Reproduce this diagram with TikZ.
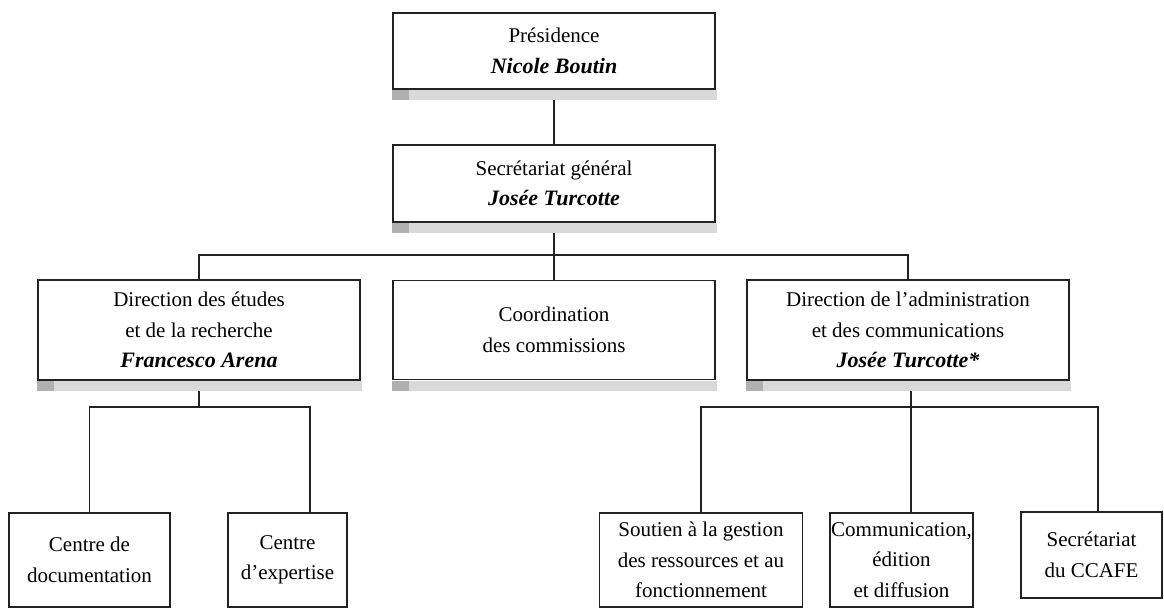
\documentclass[tikz,border=0pt]{standalone}
\usepackage{fontspec}
\setmainfont{Liberation Serif}
\definecolor{shlight}{HTML}{D9D9D9}
\definecolor{shdark}{HTML}{B0B0B0}
\definecolor{ln}{HTML}{222222}
\newcommand\nm[1]{{\fontsize{22}{30.5}\selectfont\bfseries\itshape #1}}
\newcommand\shadowbar[1]{%
  \fill[shlight] ([yshift=-0.6pt]#1.south west) rectangle ([xshift=1pt,yshift=-10.5pt]#1.south east);
  \fill[shdark] ([yshift=-0.6pt]#1.south west) rectangle ([xshift=17pt,yshift=-10.5pt]#1.south west);}
\tikzset{
  box/.style={draw=ln, line width=1.1pt, fill=white, inner sep=0pt, align=center,
    font=\fontsize{21}{30.5}\selectfont},
  conn/.style={draw=ln, line width=1.1pt}
}
\begin{document}
\begin{tikzpicture}[x=1pt,y=-1pt]
\useasboundingbox (0,0) rectangle (1164,608);
% level 0 and 1
\node[box, minimum width=322pt, minimum height=76pt] (pres) at (554,51) {Présidence\\\nm{Nicole Boutin}};
\node[box, minimum width=322pt, minimum height=77pt] (sg) at (554,183.5) {Secrétariat général\\\nm{Josée Turcotte}};
% level 2
\node[box, minimum width=322pt, minimum height=100pt] (der) at (199,330) {Direction des études\\et de la recherche\\\nm{Francesco Arena}};
\node[box, minimum width=322pt, minimum height=99pt] (coord) at (554,330) {Coordination\\des commissions};
\node[box, minimum width=322pt, minimum height=100pt] (dac) at (908,330) {Direction de l'administration\\et des communications\\\nm{Josée Turcotte*}};
% level 3
\node[box, minimum width=161pt, minimum height=94pt] (doc) at (89.5,560) {Centre de\\documentation};
\node[box, minimum width=119pt, minimum height=94pt] (exp) at (287.5,560) {Centre\\d'expertise};
\node[box, minimum width=203pt, minimum height=94pt] (sout) at (701,560) {Soutien à la gestion\\des ressources et au\\fonctionnement};
\node[box, minimum width=143pt, minimum height=94pt] (comm) at (901.5,560) {Communication,\\édition\\et diffusion};
\node[box, minimum width=141pt, minimum height=86pt] (secr) at (1091.5,555) {Secrétariat\\du CCAFE};
% shadows
\shadowbar{pres}
\shadowbar{sg}
\shadowbar{der}
\shadowbar{coord}
\shadowbar{dac}
% bus coordinates
\coordinate (bus1) at (0,255);
\coordinate (bus2) at (0,407);
\coordinate (expc) at (310,407);
\coordinate (secc) at (1098,407);
% connectors
\draw[conn] ([yshift=-10.5pt]pres.south) -- (sg.north);
\draw[conn] ([yshift=-10.5pt]sg.south) -- (coord.north);
\draw[conn] (der.north) -- (der.north |- bus1) -- (dac.north |- bus1) -- (dac.north);
\draw[conn] ([yshift=-10.5pt]der.south) -- (der.south |- bus2);
\draw[conn] (doc.north) -- (doc.north |- bus2) -- (expc) -- (expc |- exp.north);
\draw[conn] ([xshift=3pt,yshift=-10.5pt]dac.south) -- ([xshift=3pt]dac.south |- comm.north);
\draw[conn] (sout.north) -- (sout.north |- bus2) -- (secc) -- (secc |- secr.north);
\end{tikzpicture}
\end{document}
